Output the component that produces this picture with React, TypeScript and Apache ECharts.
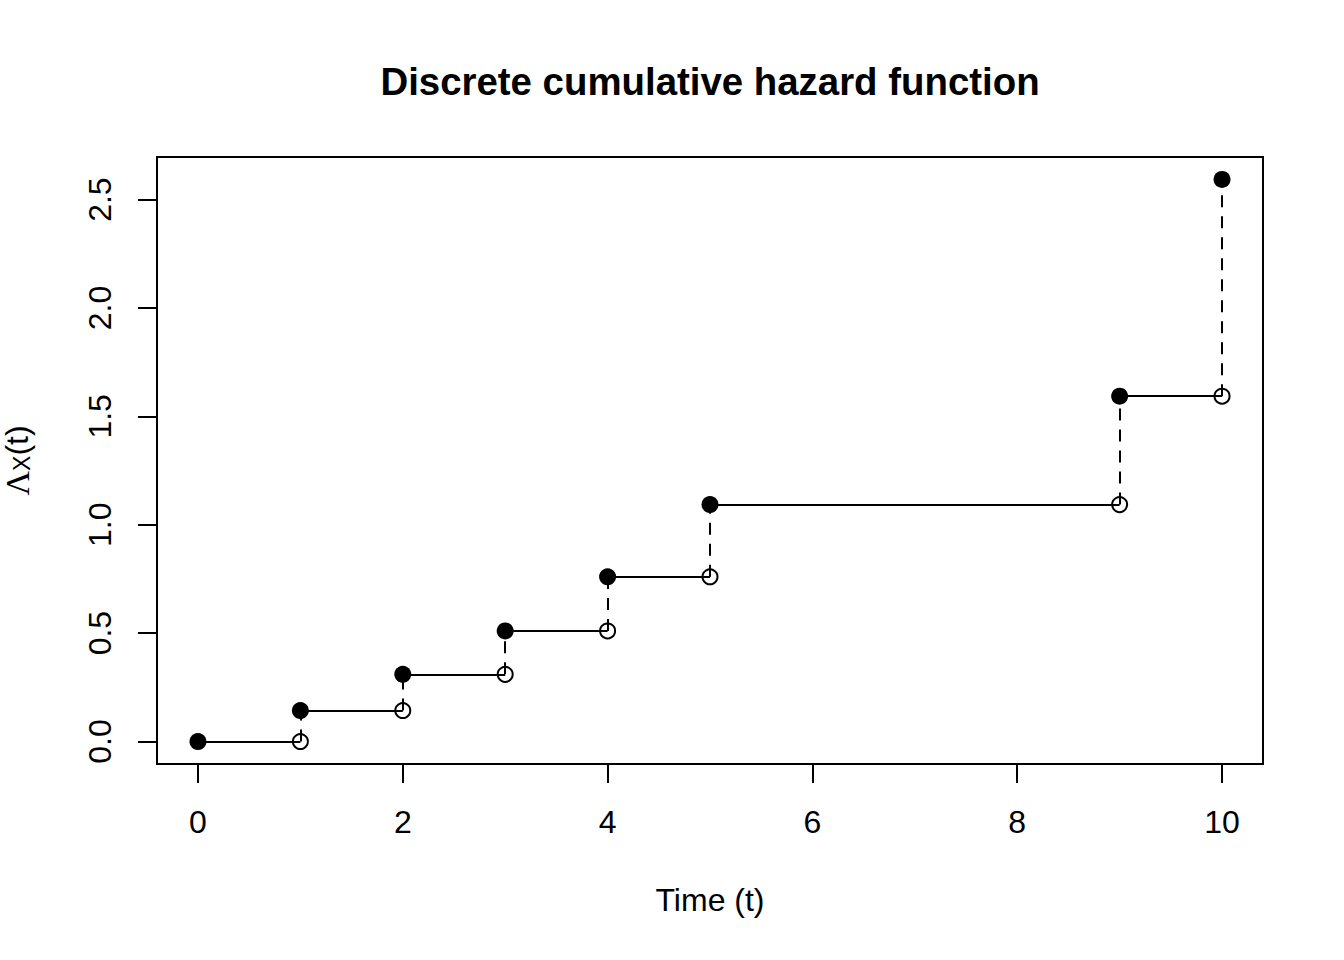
import React, { useEffect, useRef } from "react";
import * as echarts from "echarts";

// Event times and cumulative hazard at each time
const times = [0, 1, 2, 3, 4, 5, 9, 10];
const cumHazard = [0, 0.143, 0.31, 0.51, 0.76, 1.093, 1.593, 2.593];

// Axis ticks
const xTicks = [0, 2, 4, 6, 8, 10];
const yTicks = [0, 0.5, 1.0, 1.5, 2.0, 2.5];

const xMin = -0.4;
const xMax = 10.4;
const yMin = -0.1037;
const yMax = 2.6966;

const titleText = "Discrete cumulative hazard function";
const xLabel = "Time (t)";

export default function App() {
  const ref = useRef<HTMLDivElement>(null);

  useEffect(() => {
    if (!ref.current) return;
    const chart = echarts.init(ref.current, undefined, { renderer: "svg" });

    const filled = times.map((t, i) => [t, cumHazard[i]]);
    const open = times.slice(1).map((t, i) => [t, cumHazard[i]]);
    const horiz = times.slice(1).map((t, i) => ({
      coords: [
        [times[i], cumHazard[i]],
        [t, cumHazard[i]],
      ],
    }));
    const vert = times.slice(1).map((t, i) => ({
      coords: [
        [t, cumHazard[i]],
        [t, cumHazard[i + 1]],
      ],
    }));

    const font = "'Liberation Sans', Arial, Helvetica, sans-serif";

    chart.setOption({
      animation: false,
      backgroundColor: "#ffffff",
      title: {
        text: titleText,
        left: 710,
        textAlign: "center",
        top: 62,
        padding: 0,
        textStyle: {
          fontFamily: font,
          fontWeight: "bold",
          fontSize: 38.4,
          color: "#000",
        },
      },
      grid: {
        left: 157,
        right: 81,
        top: 157,
        bottom: 196,
        show: true,
        borderColor: "#000",
        borderWidth: 2,
        backgroundColor: "transparent",
        containLabel: false,
        outerBoundsMode: "none",
      },
      xAxis: {
        type: "value",
        min: xMin,
        max: xMax,
        axisLine: { show: false, onZero: false },
        splitLine: { show: false },
        axisTick: {
          show: true,
          inside: false,
          customValues: xTicks,
          length: 19,
          lineStyle: { color: "#000", width: 2 },
        },
        axisLabel: {
          customValues: xTicks,
          margin: 42,
          fontSize: 32,
          fontFamily: font,
          color: "#000",
        },
        name: xLabel,
        nameLocation: "middle",
        nameGap: 120,
        nameTextStyle: { fontSize: 32, fontFamily: font, color: "#000" },
      },
      yAxis: {
        type: "value",
        min: yMin,
        max: yMax,
        axisLine: { show: false, onZero: false },
        splitLine: { show: false },
        axisTick: {
          show: true,
          inside: false,
          customValues: yTicks,
          length: 19,
          lineStyle: { color: "#000", width: 2 },
        },
        axisLabel: {
          customValues: yTicks,
          rotate: 90,
          margin: 41,
          fontSize: 32,
          fontFamily: font,
          color: "#000",
          formatter: (v: number) => v.toFixed(1),
        },
        name: "{L|Λ}{sub|X}{p|(t)}",
        nameLocation: "middle",
        nameGap: 124,
        nameRotate: 90,
        nameTextStyle: {
          color: "#000",
          rich: {
            L: {
              fontSize: 34,
              lineHeight: 32,
              fontFamily: "'Liberation Serif', serif",
              color: "#000",
            },
            sub: {
              fontSize: 23,
              lineHeight: 20,
              verticalAlign: "bottom",
              fontFamily: font,
              color: "#000",
            },
            p: {
              fontSize: 32,
              lineHeight: 32,
              fontFamily: font,
              color: "#000",
            },
          },
        },
      },
      series: [
        {
          type: "lines",
          coordinateSystem: "cartesian2d",
          data: horiz,
          symbol: ["none", "none"],
          lineStyle: { color: "#000", width: 2, type: "solid", opacity: 1 },
          silent: true,
        },
        {
          type: "lines",
          coordinateSystem: "cartesian2d",
          data: vert,
          symbol: ["none", "none"],
          lineStyle: { color: "#000", width: 2, type: [12, 9], opacity: 1 },
          silent: true,
        },
        {
          type: "scatter",
          data: open,
          symbol: "circle",
          symbolSize: 15,
          itemStyle: {
            color: "transparent",
            borderColor: "#000",
            borderWidth: 2,
            opacity: 1,
          },
          silent: true,
        },
        {
          type: "scatter",
          data: filled,
          symbol: "circle",
          symbolSize: 17,
          itemStyle: { color: "#000", opacity: 1 },
          silent: true,
        },
      ],
    });

    return () => chart.dispose();
  }, []);

  return (
    <div
      ref={ref}
      style={{ position: "absolute", left: 0, top: 0, width: 1344, height: 960 }}
    />
  );
}
